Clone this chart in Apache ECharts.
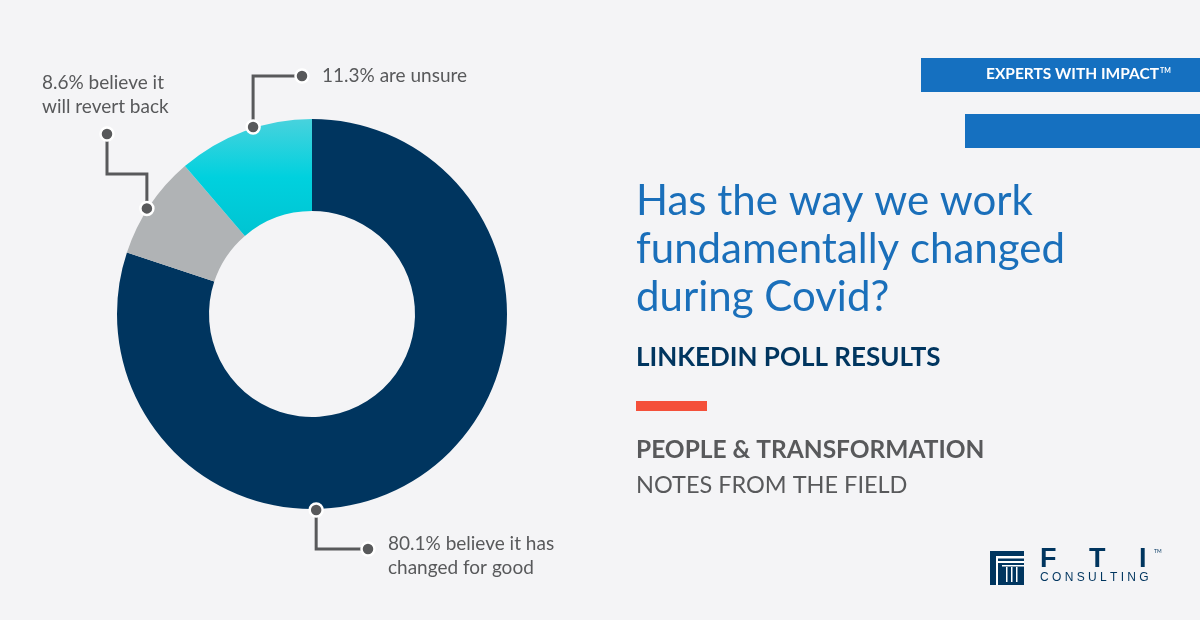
<!DOCTYPE html>
<html>
<head>
<meta charset="utf-8">
<script src="https://cdn.jsdelivr.net/npm/echarts@6/dist/echarts.min.js"></script>
<style>
  html, body { margin: 0; padding: 0; background: #f4f4f6; }
  #chart { width: 1200px; height: 620px; }
</style>
</head>
<body>
<div id="chart"></div>
<script>
// poll results (percent)
const categories = ["believe it has changed for good", "believe it will revert back", "are unsure"];
const values = [80.1, 8.6, 11.3];
const labelLines = [
  ["believe it has", "changed for good"],
  ["believe it", "will revert back"],
  ["are unsure"]
];
const sliceColors = ["#00355f", "#b0b3b5", "cyan"];

const FONT = "Lato, 'Open Sans', sans-serif";
const center = [312, 314];
const ringR = 196;
// where on each slice the leader dot sits (fraction of slice sweep)
const anchorFrac = [0.62, 0.46, 0.57];
// label anchor points
const labelPos = [
  { x: 388, y: 556 },
  { x: 42, y: 95 },
  { x: 322, y: 76 }
];

const total = values.reduce((a, b) => a + b, 0);
let cum = 0;
const anchors = values.map((v, i) => {
  const a = ((cum + anchorFrac[i] * v) / total) * Math.PI * 2;
  cum += v;
  return [center[0] + ringR * Math.sin(a), center[1] - ringR * Math.cos(a)];
});

const leaderPaths = [
  [anchors[0], [anchors[0][0], 549], [368, 549]],
  [anchors[1], [anchors[1][0], 174], [107, 174], [107, 134]],
  [anchors[2], [anchors[2][0], 76], [302, 76]]
];

const chart = echarts.init(document.getElementById("chart"));

const graphics = [];
leaderPaths.forEach((pts) => {
  graphics.push({
    type: "polyline", z: 10,
    shape: { points: pts },
    style: { stroke: "#58595b", lineWidth: 3, fill: null }
  });
  [pts[0], pts[pts.length - 1]].forEach((p) => {
    graphics.push({
      type: "circle", z: 11,
      shape: { cx: p[0], cy: p[1], r: 6.5 },
      style: { fill: "#58595b", stroke: "#ffffff", lineWidth: 2.5 }
    });
  });
});

// right-hand text block
const titleLines = ["Has the way we work", "fundamentally changed", "during Covid?"];
titleLines.forEach((t, i) => {
  graphics.push({
    type: "text", left: 636, top: 180 + i * 48,
    style: { text: t, fill: "#1a6fba", font: "42px " + FONT }
  });
});
graphics.push(
  { type: "text", left: 636, top: 345,
    style: { text: "LINKEDIN POLL RESULTS", fill: "#00355f", font: "bold 26px " + FONT } },
  { type: "rect", shape: { x: 636, y: 401, width: 71, height: 10 }, style: { fill: "#f4503a" } },
  { type: "text", left: 636, top: 438,
    style: { text: "PEOPLE & TRANSFORMATION", fill: "#58595b", font: "bold 24.5px " + FONT } },
  { type: "text", left: 636, top: 473,
    style: { text: "NOTES FROM THE FIELD", fill: "#58595b", font: "23.5px " + FONT } },
  // banners
  { type: "rect", shape: { x: 921, y: 58, width: 279, height: 34 }, style: { fill: "#1570c0" } },
  { type: "text", left: 986, top: 66,
    style: { text: "EXPERTS WITH IMPACT", fill: "#ffffff", font: "bold 15.5px " + FONT } },
  { type: "text", left: 1160, top: 67,
    style: { text: "TM", fill: "#ffffff", font: "bold 7px " + FONT } },
  { type: "rect", shape: { x: 965, y: 114, width: 235, height: 34 }, style: { fill: "#1570c0" } },
  // FTI logo
  { type: "rect", shape: { x: 990, y: 551, width: 34, height: 34 }, style: { fill: "#00355f" } },
  { type: "rect", shape: { x: 996, y: 556, width: 28, height: 2.5 }, style: { fill: "#ffffff" } },
  { type: "rect", shape: { x: 996, y: 561, width: 28, height: 2 }, style: { fill: "#ffffff" } },
  { type: "rect", shape: { x: 996, y: 556, width: 2, height: 29 }, style: { fill: "#ffffff" } },
  { type: "rect", shape: { x: 1002, y: 565, width: 22, height: 1.5 }, style: { fill: "#ffffff" } },
  { type: "rect", shape: { x: 1006, y: 567, width: 1.5, height: 15 }, style: { fill: "#ffffff" } },
  { type: "rect", shape: { x: 1011, y: 567, width: 1.5, height: 15 }, style: { fill: "#ffffff" } },
  { type: "rect", shape: { x: 1016, y: 567, width: 1.5, height: 15 }, style: { fill: "#ffffff" } },
  { type: "text", left: 1040, top: 546,
    style: { text: "F", fill: "#00355f", font: "bold 27px 'Liberation Sans', sans-serif" } },
  { type: "text", left: 1089, top: 546,
    style: { text: "T", fill: "#00355f", font: "bold 27px 'Liberation Sans', sans-serif" } },
  { type: "text", left: 1139, top: 546,
    style: { text: "I", fill: "#00355f", font: "bold 27px 'Liberation Sans', sans-serif" } },
  { type: "text", left: 1154, top: 549,
    style: { text: "TM", fill: "#00355f", font: "5px " + FONT } },
  { type: "text", left: 1040, top: 572,
    style: { text: "C O N S U L T I N G", fill: "#00355f", font: "12px 'Liberation Sans', sans-serif" } }
);

chart.setOption({
  backgroundColor: "#f4f4f6",
  animation: false,
  series: [
    {
      type: "pie",
      center: center,
      radius: [103, 195],
      startAngle: 90,
      clockwise: true,
      silent: true,
      data: values.map((v, i) => ({
        name: categories[i],
        value: v,
        itemStyle: {
          color: i === 2
            ? new echarts.graphic.LinearGradient(0, 0, 0, 1, [
                { offset: 0, color: "#48d2dd" },
                { offset: 0.5, color: "#00d1de" },
                { offset: 1, color: "#00c4d2" }
              ])
            : sliceColors[i]
        }
      })),
      label: {
        show: true,
        formatter: (p) => {
          const l = labelLines[p.dataIndex];
          return p.value + "% " + l.join("\n");
        },
        color: "#58595b",
        fontFamily: FONT,
        fontSize: 19,
        lineHeight: 24,
        width: 260,
        overflow: "none"
      },
      labelLine: { show: false },
      labelLayout: (p) => ({
        x: labelPos[p.dataIndex].x,
        y: labelPos[p.dataIndex].y,
        align: "left",
        verticalAlign: "middle",
        hideOverlap: false
      })
    }
  ],
  graphic: graphics
});
</script>
</body>
</html>
